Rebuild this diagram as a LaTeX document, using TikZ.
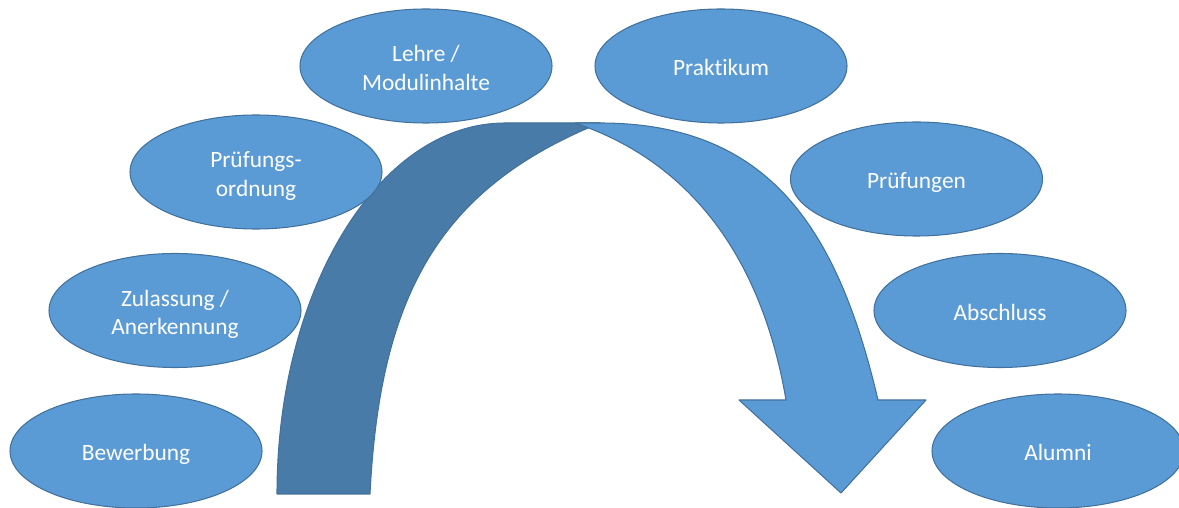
\documentclass[tikz,border=0pt]{standalone}
\usepackage{fontspec}
\setmainfont{Carlito}[Ligatures=NoCommon]
\usepackage{tikz}
\usetikzlibrary{shapes}
\definecolor{phaseblue}{HTML}{5B9BD5}
\definecolor{phaseline}{HTML}{41719C}
\definecolor{backblue}{HTML}{497BA8}
\newcommand{\phasestrut}{\rule{0pt}{16.3pt}}
\tikzstyle{phase}=[ellipse,draw=phaseline,fill=phaseblue,line width=0.6pt,minimum width=5.04cm,minimum height=2.28cm,inner sep=0pt,text=white,align=center,font=\fontsize{13.3}{16.4}\selectfont,execute at begin node=\phasestrut,execute at end node=\strut]
\tikzstyle{band}=[draw=phaseline,line width=0.6pt,line join=round]

\begin{document}
\begin{tikzpicture}
      \useasboundingbox (0,0) rectangle (23.58,10.16);
      % bogen: hinterer teil
      \path[band,fill=backblue] (5.54,0.28) arc[start angle=180,end angle=90,x radius=4.56,y radius=7.42]
        -- (12.00,7.70) .. controls (8.80,6.40) and (7.60,4.28) .. (7.40,0.28) -- cycle;
      % bogen: vorderer teil mit spitze
      \path[band,fill=phaseblue] (11.50,7.70) -- (12.00,7.70)
        .. controls (15.40,7.70) and (16.76,5.56) .. (17.56,2.16)
        -- (18.52,2.16) -- (16.82,0.30) -- (14.78,2.16) -- (15.72,2.16)
        .. controls (15.38,4.16) and (14.40,6.72) .. (11.50,7.70) -- cycle;
      \node[phase] (bewerbung) at (2.72,1.14) {Bewerbung};
      \node[phase] (zulassung) at (3.50,3.95) {\phasestrut Zulassung /\\Anerkennung};
      \node[phase] (pordnung) at (5.12,6.72) {\phasestrut Prüfungs-\\ordnung};
      \node[phase] (lehre) at (8.52,8.84) {\phasestrut Lehre /\\Modulinhalte};
      \node[phase] (praktikum) at (14.42,8.84) {Praktikum};
      \node[phase] (pruefungen) at (18.33,6.58) {Prüfungen};
      \node[phase] (abschluss) at (20.00,3.95) {Abschluss};
      \node[phase] (alumni) at (21.16,1.14) {Alumni};
    \end{tikzpicture}
\end{document}
